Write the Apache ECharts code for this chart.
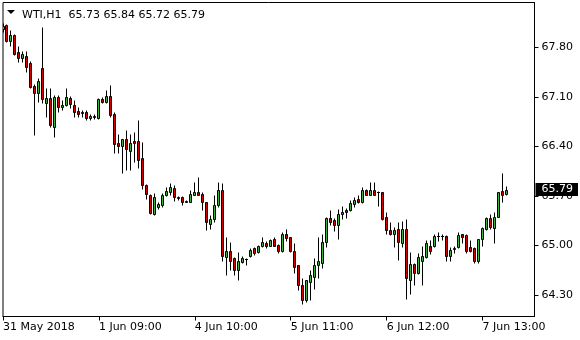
<!DOCTYPE html>
<html>
<head>
<meta charset="utf-8">
<script src="https://cdn.jsdelivr.net/npm/echarts@6/dist/echarts.min.js"></script>
<style>html,body{margin:0;padding:0;background:#fff}#c{width:580px;height:340px}</style>
</head>
<body>
<div id="c"></div>
<script>
const symbolName = 'WTI,H1';
const opens = [68.05,68.11,67.89,67.97,67.73,67.64,67.68,67.57,67.25,67.15,67.50,67.01,67.08,66.68,67.09,66.95,66.99,67.08,66.99,66.90,66.88,66.89,66.80,66.83,66.80,67.07,67.02,67.11,66.85,66.45,66.40,66.51,66.34,66.48,66.48,66.23,65.86,65.72,65.44,65.54,65.57,65.72,65.76,65.81,65.68,65.69,65.63,65.62,65.72,65.76,65.73,65.62,65.31,65.38,65.57,65.79,64.84,64.93,64.82,64.65,64.77,64.81,64.86,64.96,64.91,65.00,65.04,65.00,65.09,65.01,64.92,65.17,65.12,64.93,64.72,64.45,64.23,64.49,64.56,64.73,64.76,65.05,65.39,65.36,65.29,65.44,65.50,65.50,65.59,65.66,65.62,65.79,65.72,65.79,65.76,65.75,65.40,65.22,65.16,65.24,65.03,65.24,64.52,64.74,64.61,64.79,64.84,65.00,65.00,65.13,65.14,65.14,64.85,64.95,64.98,65.16,65.15,64.98,64.96,64.79,65.10,65.24,65.39,65.25,65.41,65.77,65.73];
const highs = [68.14,68.13,68.04,67.99,67.82,67.75,67.75,67.61,67.28,67.36,68.09,67.22,67.22,67.12,67.12,67.05,67.23,67.11,67.05,66.95,66.92,66.91,66.86,66.85,67.08,67.10,67.20,67.26,66.88,66.58,66.51,66.63,66.58,66.60,66.77,66.46,65.87,65.73,65.74,65.62,65.74,65.83,65.88,65.85,65.70,65.70,65.65,65.79,65.90,65.97,65.76,65.62,65.43,65.71,65.90,65.88,65.12,65.05,64.84,64.91,64.86,64.83,64.97,64.98,65.01,65.12,65.06,65.10,65.12,65.02,65.19,65.23,65.12,65.04,64.72,64.54,64.52,64.65,64.82,65.12,65.16,65.40,65.50,65.39,65.51,65.56,65.53,65.65,65.69,65.71,65.82,65.80,65.90,65.90,65.77,65.75,65.47,65.33,65.26,65.33,65.35,65.38,64.91,64.75,64.90,65.00,65.08,65.08,65.17,65.19,65.17,65.15,64.98,65.00,65.19,65.17,65.16,65.08,64.98,65.09,65.26,65.40,65.45,65.47,65.76,66.02,65.84];
const lows = [68.02,67.87,67.82,67.69,67.59,67.59,67.45,67.22,66.56,67.02,67.01,66.81,66.67,66.53,66.88,66.91,66.97,66.94,66.82,66.82,66.81,66.77,66.77,66.79,66.78,67.01,67.01,66.82,66.30,66.30,66.02,66.06,66.06,66.18,66.09,65.80,65.66,65.44,65.43,65.52,65.54,65.70,65.72,65.63,65.65,65.58,65.61,65.61,65.71,65.71,65.50,65.22,65.24,65.33,65.55,64.79,64.58,64.65,64.58,64.51,64.76,64.72,64.84,64.87,64.90,64.98,64.97,64.99,64.99,64.90,64.91,65.06,64.91,64.61,64.37,64.17,64.21,64.23,64.39,64.54,64.68,64.98,65.29,65.20,65.10,65.38,65.39,65.49,65.54,65.60,65.60,65.71,65.71,65.71,65.56,65.36,65.17,65.15,64.98,64.80,64.98,64.24,64.32,64.44,64.60,64.45,64.82,64.88,64.98,65.06,65.08,64.79,64.79,64.90,64.96,65.04,64.89,64.91,64.76,64.76,65.00,65.22,65.23,65.04,65.40,65.62,65.72];
const closes = [68.10,67.89,67.97,67.71,67.65,67.71,67.52,67.24,67.15,67.32,67.07,67.08,66.70,67.09,66.96,66.99,67.09,67.00,66.88,66.86,66.87,66.80,66.83,66.82,67.07,67.03,67.11,66.84,66.44,66.40,66.51,66.37,66.45,66.45,66.21,65.85,65.73,65.46,65.69,65.59,65.71,65.77,65.82,65.69,65.67,65.62,65.62,65.73,65.76,65.72,65.62,65.33,65.38,65.57,65.79,64.85,64.93,64.79,64.65,64.79,64.82,64.81,64.94,64.89,64.99,65.05,64.99,65.08,65.00,64.93,65.17,65.11,64.92,64.70,64.45,64.23,64.51,64.58,64.73,64.78,65.05,65.39,65.34,65.29,65.44,65.47,65.47,65.60,65.65,65.62,65.78,65.72,65.79,65.72,65.75,65.38,65.22,65.16,65.22,65.05,65.24,64.54,64.74,64.61,64.84,64.86,65.03,64.92,65.14,65.14,65.13,64.85,64.94,64.97,65.15,65.12,64.93,64.93,64.79,65.09,65.25,65.39,65.26,65.41,65.75,65.71,65.79];
const slotCount = 134;
const timeTickIndex = [0, 24, 48, 72, 96, 120];
const timeTickLabels = ['31 May 2018', '1 Jun 09:00', '4 Jun 10:00', '5 Jun 11:00', '6 Jun 12:00', '7 Jun 13:00'];
const priceTicks = [64.30, 65.00, 65.70, 66.40, 67.10, 67.80];
const priceMin = 64.00, priceMax = 68.43;

const categories = [];
for (let i = 0; i < slotCount; i++) categories.push(String(i));
const candles = opens.map((o, i) => [i, o, closes[i], lows[i], highs[i]]);
const last = opens.length - 1;
const lastClose = closes[last];
const font = 'DejaVu Sans';
const bullColor = '#3cb43c', bearColor = '#d40000';

function renderCandle(params, api) {
  const idx = api.value(0), o = api.value(1), c = api.value(2), l = api.value(3), h = api.value(4);
  const pO = api.coord([idx, o]), pC = api.coord([idx, c]);
  const pL = api.coord([idx, l]), pH = api.coord([idx, h]);
  const xc = Math.floor(pO[0]) + 0.5;
  const yTop = Math.round(Math.min(pO[1], pC[1])) + 0.5;
  const yBot = Math.round(Math.max(pO[1], pC[1])) + 0.5;
  const yHi = Math.round(pH[1]) + 0.5, yLo = Math.round(pL[1]) + 0.5;
  const children = [{
    type: 'line', shape: {x1: xc, y1: yHi, x2: xc, y2: yLo},
    style: {stroke: '#000', lineWidth: 1}
  }];
  if (yBot - yTop < 1) {
    children.push({type: 'line', shape: {x1: xc - 1.5, y1: yTop, x2: xc + 1.5, y2: yTop}, style: {stroke: '#000', lineWidth: 1}});
  } else {
    children.push({
      type: 'rect', shape: {x: xc - 1, y: yTop, width: 2, height: yBot - yTop},
      style: {fill: c >= o ? bullColor : bearColor, stroke: '#000', lineWidth: 1}
    });
  }
  return {type: 'group', children: children};
}

const chart = echarts.init(document.getElementById('c'), null, {renderer: 'canvas'});
chart.setOption({
  animation: false,
  backgroundColor: '#fff',
  title: {
    text: symbolName + '  ' + [opens[last], highs[last], lows[last], closes[last]].map(v => v.toFixed(2)).join(' '),
    left: 17, top: 5,
    textStyle: {fontSize: 11, fontWeight: 'normal', color: '#000', fontFamily: font}
  },
  graphic: [{type: 'polygon', shape: {points: [[7, 10], [15, 10], [11, 14]]}, style: {fill: '#000'}}],
  grid: {left: 2.5, right: 45.5, top: 2.5, bottom: 23.5, show: true, borderColor: '#000', borderWidth: 1},
  xAxis: {
    type: 'category', data: categories, boundaryGap: false,
    axisLine: {show: true, lineStyle: {color: '#000', width: 1}},
    axisTick: {show: true, length: 4, interval: (i) => timeTickIndex.includes(i), lineStyle: {color: '#000'}},
    axisLabel: {
      interval: (i) => timeTickIndex.includes(i),
      formatter: (v, i) => { const k = timeTickIndex.indexOf(i); return k >= 0 ? timeTickLabels[k] : ''; },
      align: 'left', margin: 5, color: '#000', fontSize: 11, fontFamily: font
    },
    splitLine: {show: false}
  },
  yAxis: {
    type: 'value', position: 'right', min: priceMin, max: priceMax,
    axisLine: {show: true, lineStyle: {color: '#000', width: 1}},
    axisTick: {show: true, length: 4, customValues: priceTicks, lineStyle: {color: '#000'}},
    axisLabel: {customValues: priceTicks, formatter: (v) => Number(v).toFixed(2), margin: 7, color: '#000', fontSize: 11, fontFamily: font},
    splitLine: {show: false}
  },
  series: [{
    type: 'custom',
    data: candles,
    encode: {x: 0, y: [1, 2, 3, 4]},
    renderItem: renderCandle,
    clip: true,
    markLine: {
      silent: true, symbol: 'none', animation: false,
      lineStyle: {color: 'rgba(0,0,0,0)', width: 1, type: 'solid'},
      data: [{yAxis: lastClose}],
      label: {show: true, position: 'end', distance: 1, formatter: lastClose.toFixed(2), color: '#fff', backgroundColor: '#000', padding: [1, 5, 1, 6], fontSize: 11, fontFamily: font}
    }
  }]
});
</script>
</body>
</html>
